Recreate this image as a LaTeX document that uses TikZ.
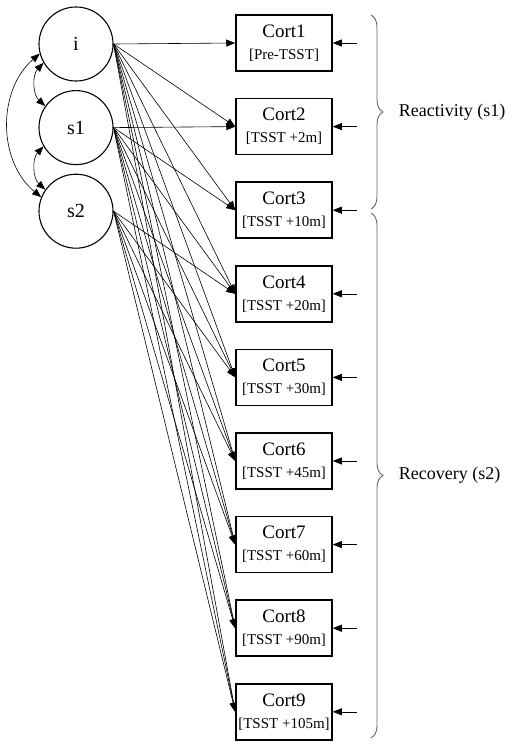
\documentclass[tikz,border=0pt]{standalone}
\usepackage{fontspec}
\setmainfont{Liberation Serif}
\usetikzlibrary{arrows.meta,positioning,decorations.pathreplacing}
\newcommand{\timelab}[1]{{\fontsize{15}{17}\selectfont #1}}

\begin{document}
\begin{tikzpicture}[->,>={Triangle[length=9pt,width=7pt]},x=1pt,y=1pt,node distance=83.6pt,semithick,
    latent/.style={circle,draw,line width=1.1pt,minimum size=74pt,inner sep=0pt,font=\fontsize{20}{24}\selectfont},
    obs/.style={rectangle,draw,line width=1.5pt,minimum width=96pt,minimum height=56pt,inner sep=1pt,align=center,font=\fontsize{19}{22}\selectfont},
    grp/.style={-,draw=black!60,line width=0.9pt,decorate,decoration={brace,amplitude=12pt}}]
                \useasboundingbox (0,0) rectangle (512,-747);
                % growth factors
                \node[latent] (i) at (76,-44) {i};
                \node[latent] (s1) [below of=i] {s1};
                \node[latent] (s2) [below of=s1] {s2};
                % cortisol samples
                \node[obs] (c1) at (284,-43) {Cort1\\\timelab{[Pre-TSST]}};
                \node[obs] (c2) [below of=c1] {Cort2\\\timelab{[TSST +2m]}};
                \node[obs] (c3) [below of=c2] {Cort3\\\timelab{[TSST +10m]}};
                \node[obs] (c4) [below of=c3] {Cort4\\\timelab{[TSST +20m]}};
                \node[obs] (c5) [below of=c4] {Cort5\\\timelab{[TSST +30m]}};
                \node[obs] (c6) [below of=c5] {Cort6\\\timelab{[TSST +45m]}};
                \node[obs] (c7) [below of=c6] {Cort7\\\timelab{[TSST +60m]}};
                \node[obs] (c8) [below of=c7] {Cort8\\\timelab{[TSST +90m]}};
                \node[obs] (c9) [below of=c8] {Cort9\\\timelab{[TSST +105m]}};
                % residuals
                \coordinate[right=24pt of c1] (e1);
                \coordinate[right=24pt of c2] (e2);
                \coordinate[right=24pt of c3] (e3);
                \coordinate[right=24pt of c4] (e4);
                \coordinate[right=24pt of c5] (e5);
                \coordinate[right=24pt of c6] (e6);
                \coordinate[right=24pt of c7] (e7);
                \coordinate[right=24pt of c8] (e8);
                \coordinate[right=24pt of c9] (e9);
                \path
                    (i.east) edge (c1.west)
                        edge (c2.west)
                        edge (c3.west)
                        edge (c4.west)
                        edge (c5.west)
                        edge (c6.west)
                        edge (c7.west)
                        edge (c8.west)
                        edge (c9.west)
                    (s1.east) edge (c2.west)
                        edge (c3.west)
                        edge (c4.west)
                        edge (c5.west)
                        edge (c6.west)
                        edge (c7.west)
                        edge (c8.west)
                        edge (c9.west)
                    (s2.east) edge (c4.west)
                        edge (c5.west)
                        edge (c6.west)
                        edge (c7.west)
                        edge (c8.west)
                        edge (c9.west)
                    (i.210) edge [<->,bend right=45] (s1.145)
                    (s1.210) edge [<->,bend right=45] (s2.145)
                    (i.195) edge [<->,bend right=50] (s2.158)
                    (e1) edge (c1) (e2) edge (c2) (e3) edge (c3)
                    (e4) edge (c4) (e5) edge (c5) (e6) edge (c6)
                    (e7) edge (c7) (e8) edge (c8) (e9) edge (c9);
                % phases
                \draw[grp] (371,-15) -- (371,-209)
                    node[midway,right=24pt,draw=none,font=\fontsize{18}{22}\selectfont] (react) {Reactivity (s1)};
                \draw[grp] (371,-213) -- (371,-738)
                    node[midway,right=24pt,draw=none,font=\fontsize{18}{22}\selectfont] (recov) {Recovery (s2)};
            \end{tikzpicture}
\end{document}
